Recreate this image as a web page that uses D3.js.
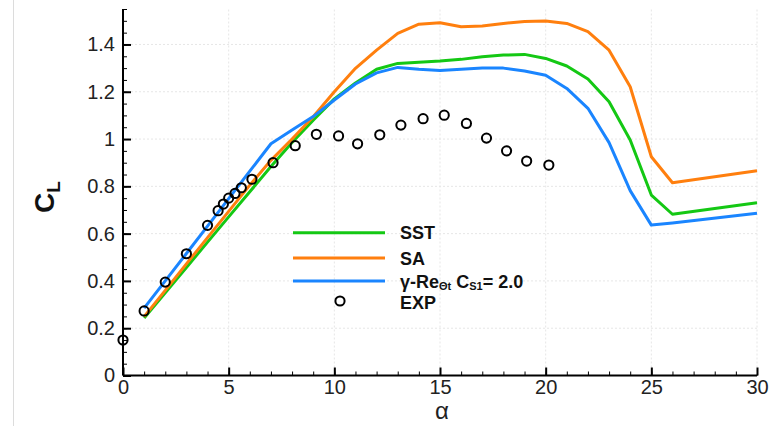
<!DOCTYPE html>
<html><head><meta charset="utf-8">
<script src="https://cdn.jsdelivr.net/npm/d3@7"></script>
<style>
body{margin:0;background:#fff;}
text{font-family:"Liberation Sans",Arial,sans-serif;}
</style></head>
<body>
<svg id="c" width="775" height="426"></svg>
<script>
const alphaSim = [1,2,3,4,5,6,7,8,9,10,11,12,13,14,15,16,17,18,19,20,21,22,23,24,25,26,30];
const sstCL   = [0.243,0.35,0.457,0.564,0.671,0.777,0.884,0.985,1.08,1.17,1.237,1.295,1.32,1.325,1.33,1.337,1.348,1.355,1.358,1.341,1.309,1.254,1.158,0.996,0.763,0.682,0.731];
const saCL    = [0.249,0.36,0.472,0.583,0.694,0.805,0.91,1.0,1.094,1.2,1.299,1.376,1.447,1.486,1.492,1.475,1.478,1.489,1.497,1.499,1.489,1.454,1.376,1.221,0.925,0.815,0.866];
const gammaCL = [0.285,0.40,0.516,0.632,0.748,0.864,0.98,1.038,1.095,1.165,1.233,1.28,1.303,1.295,1.29,1.295,1.3,1.3,1.288,1.27,1.214,1.13,0.985,0.782,0.636,0.645,0.686];
const alphaExp = [0,1,2,3,4,4.5,4.75,5,5.3,5.6,6.1,7.1,8.15,9.15,10.2,11.1,12.15,13.15,14.2,15.2,16.25,17.2,18.15,19.1,20.15];
const expCL    = [0.15,0.273,0.395,0.515,0.635,0.697,0.725,0.75,0.77,0.794,0.83,0.90,0.972,1.02,1.013,0.98,1.018,1.059,1.086,1.101,1.066,1.004,0.95,0.907,0.89];
const xTicks = [0,5,10,15,20,25,30];
const yTicks = [0,0.2,0.4,0.6,0.8,1,1.2,1.4];
const seriesNames = ["SST","SA","γ-Re"];
const seriesColors = ["#14c814","#ff7f0e","#1a85ff"];

const svg = d3.select("#c");
const x = d3.scaleLinear().domain([0,30]).range([123,757]);
const y = d3.scaleLinear().domain([0,1.55]).range([375.5,9]);

// frame line on the left
svg.append("line").attr("x1",13.5).attr("x2",13.5).attr("y1",0).attr("y2",426).attr("stroke","#dcdcdc").attr("stroke-width",1);

// grid
const g = svg.append("g");
g.selectAll(".vg").data(xTicks.filter(d=>d>0)).join("line")
 .attr("x1",d=>x(d)).attr("x2",d=>x(d)).attr("y1",y(0)).attr("y2",y(1.55))
 .attr("stroke","#e6e6e6").attr("stroke-dasharray","2,2");
g.selectAll(".hg").data(yTicks.filter(d=>d>0)).join("line")
 .attr("x1",x(0)).attr("x2",x(30)).attr("y1",d=>y(d)).attr("y2",d=>y(d))
 .attr("stroke","#e6e6e6").attr("stroke-dasharray","2,2");

// lines
const series = [sstCL, saCL, gammaCL];
const line = d3.line().x((d,i)=>x(alphaSim[i])).y(d=>y(d));
series.forEach((s,k)=>{
  svg.append("path").datum(s).attr("d",line).attr("fill","none")
   .attr("stroke",seriesColors[k]).attr("stroke-width",3).attr("stroke-linejoin","round");
});

// exp points
svg.selectAll(".exp").data(expCL).join("circle")
 .attr("cx",(d,i)=>x(alphaExp[i])).attr("cy",d=>y(d)).attr("r",4.6)
 .attr("fill","none").attr("stroke","#000").attr("stroke-width",2);

// axes
const minorX = d3.range(0,31,1);
const minorY = d3.range(0,1.551,0.05);
svg.append("g").attr("transform",`translate(0,${y(0)})`)
 .call(d3.axisBottom(x).tickValues(minorX).tickSizeInner(-4).tickSizeOuter(0).tickFormat(""))
 .call(a=>a.select(".domain").remove())
 .selectAll("line").attr("stroke","#000").attr("stroke-width",1);
svg.append("g").attr("transform",`translate(${x(0)},0)`)
 .call(d3.axisLeft(y).tickValues(minorY).tickSizeInner(-4).tickSizeOuter(0).tickFormat(""))
 .call(a=>a.select(".domain").remove())
 .selectAll("line").attr("stroke","#000").attr("stroke-width",1);

const xa = svg.append("g").attr("transform",`translate(0,${y(0)})`)
 .call(d3.axisBottom(x).tickValues(xTicks).tickSizeInner(-8).tickSizeOuter(0).tickPadding(4).tickFormat(d3.format("d")));
xa.select(".domain").attr("stroke","#000").attr("stroke-width",2).attr("d",`M${x(0)},0H${x(30)}`);
xa.selectAll("line").attr("stroke","#000").attr("stroke-width",2);
xa.selectAll("text").attr("font-size",20).attr("fill","#222").attr("font-family","Liberation Sans, Arial, sans-serif");

const ya = svg.append("g").attr("transform",`translate(${x(0)},0)`)
 .call(d3.axisLeft(y).tickValues(yTicks).tickSizeInner(-8).tickSizeOuter(0).tickPadding(8).tickFormat(d=>String(d)));
ya.select(".domain").attr("stroke","#000").attr("stroke-width",2).attr("d",`M0,${y(0)}V${y(1.55)}`);
ya.selectAll("line").attr("stroke","#000").attr("stroke-width",2);
ya.selectAll("text").attr("font-size",20).attr("fill","#222").attr("font-family","Liberation Sans, Arial, sans-serif");

// axis titles
svg.append("text").attr("x",442).attr("y",419).attr("text-anchor","middle")
 .attr("font-size",24).attr("fill","#222").text("α");
const yl = svg.append("text").attr("transform","translate(54,197) rotate(-90)")
 .attr("text-anchor","middle").attr("font-size",28).attr("font-weight","bold").attr("fill","#111");
yl.append("tspan").text("C");
yl.append("tspan").attr("font-size",19).attr("dy",6).text("L");

// legend
const lgY = [232.7,258,281];
series.forEach((s,k)=>{
  svg.append("line").attr("x1",293).attr("x2",385).attr("y1",lgY[k]).attr("y2",lgY[k])
   .attr("stroke",seriesColors[k]).attr("stroke-width",3);
});
const lt = (yy)=>svg.append("text").attr("x",400).attr("y",yy+6.5).attr("font-size",18).attr("font-weight","bold").attr("fill","#111");
lt(lgY[0]).text(seriesNames[0]);
lt(lgY[1]).text(seriesNames[1]);
const t3 = lt(lgY[2]);
t3.append("tspan").text("γ-Re");
t3.append("tspan").attr("font-size",11).attr("dy",2).text("Θt");
t3.append("tspan").attr("dy",-2).text(" C");
t3.append("tspan").attr("font-size",11).attr("dy",2).text("S1");
t3.append("tspan").attr("dy",-2).text("= 2.0");
svg.append("circle").attr("cx",340).attr("cy",301).attr("r",4.6).attr("fill","none").attr("stroke","#000").attr("stroke-width",2);
svg.append("text").attr("x",400).attr("y",308.5).attr("font-size",18).attr("font-weight","bold").attr("fill","#111").text("EXP");
</script>
</body></html>
